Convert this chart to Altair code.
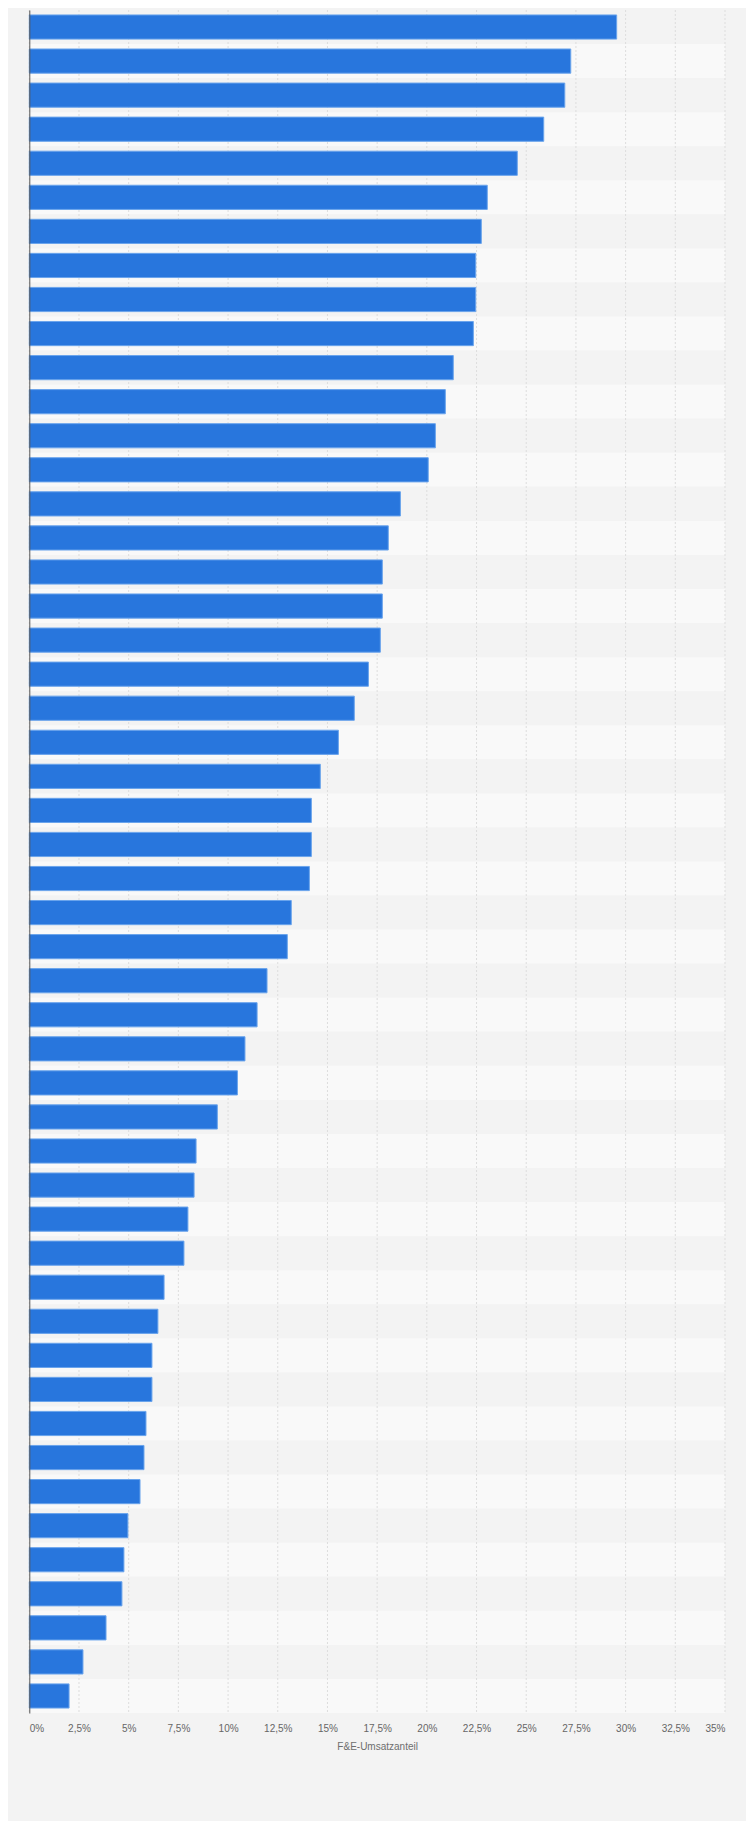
import altair as alt
import pandas as pd

# Category names are not shown in the reference (y labels hidden)
categories = [f"Unternehmen {i}" for i in range(1, 51)]
values = [29.55, 27.24, 26.94, 25.88, 24.55, 23.04, 22.74, 22.46, 22.46, 22.34,
          21.33, 20.93, 20.43, 20.07, 18.67, 18.06, 17.76, 17.76, 17.66, 17.06,
          16.35, 15.55, 14.64, 14.19, 14.19, 14.09, 13.18, 12.98, 11.96, 11.46,
          10.85, 10.47, 9.46, 8.39, 8.29, 7.98, 7.78, 6.78, 6.47, 6.17,
          6.17, 5.87, 5.77, 5.57, 4.96, 4.76, 4.66, 3.86, 2.70, 2.00]
tick_values = [0, 2.5, 5, 7.5, 10, 12.5, 15, 17.5, 20, 22.5, 25, 27.5, 30, 32.5, 35]
stripe_kind = ["a" if i % 2 == 0 else "b" for i in range(len(categories))]

W = 695.7
H = 1703

df = pd.DataFrame({"cat": categories, "value": values, "stripe": stripe_kind})
ticks_df = pd.DataFrame({"t": tick_values})

xscale = alt.Scale(domain=[0, 35], nice=False, zero=True)

x_axis = alt.Axis(values=tick_values, grid=False, ticks=False, domain=False,
                  labelFlush=True, labelPadding=10,
                  labelExpr="replace(format(datum.value, '~g'), '.', ',') + '%'",
                  labelColor="#666666", labelFontSize=10, labelFont="Arial",
                  title="F&E-Umsatzanteil", titleColor="#6e6e6e",
                  titleFontSize=10, titleFont="Arial", titleFontWeight="normal",
                  titlePadding=8)

stripes = alt.Chart(df).mark_rect().encode(
    y=alt.Y("cat:N", sort=categories,
            scale=alt.Scale(paddingInner=0, paddingOuter=0),
            axis=alt.Axis(orient="left", labels=False, ticks=False, title=None,
                          grid=False, domain=True, domainColor="#555555",
                          domainWidth=1, minExtent=0)),
    x=alt.value(0),
    x2=alt.value(W),
    color=alt.Color("stripe:N",
                    scale=alt.Scale(domain=["a", "b"], range=["#f3f3f3", "#f9f9f9"]),
                    legend=None),
)

grid = alt.Chart(ticks_df).mark_rule(
    color="#dddddd", strokeWidth=1, strokeDash=[2, 2]
).encode(
    x=alt.X("t:Q", scale=xscale, axis=x_axis, title="F&E-Umsatzanteil")
)

bars = alt.Chart(df).mark_bar(
    color="#2876dd", stroke="#6aa4ec", strokeWidth=1
).encode(
    y=alt.Y("cat:N", sort=categories,
            scale=alt.Scale(paddingInner=0.29, paddingOuter=0.145),
            axis=None),
    x=alt.X("value:Q", scale=xscale, axis=x_axis, title="F&E-Umsatzanteil"),
)

chart = alt.layer(stripes, grid, bars).resolve_scale(
    y="independent", color="independent"
).properties(
    width=W,
    height=H,
    autosize=alt.AutoSizeParams(type="none"),
    padding={"left": 21.3, "top": 2, "right": 21, "bottom": 108},
    background="#f3f3f3",
).configure_view(stroke=None)

chart.save("out.html", embed_options={"renderer": "svg", "actions": False})
